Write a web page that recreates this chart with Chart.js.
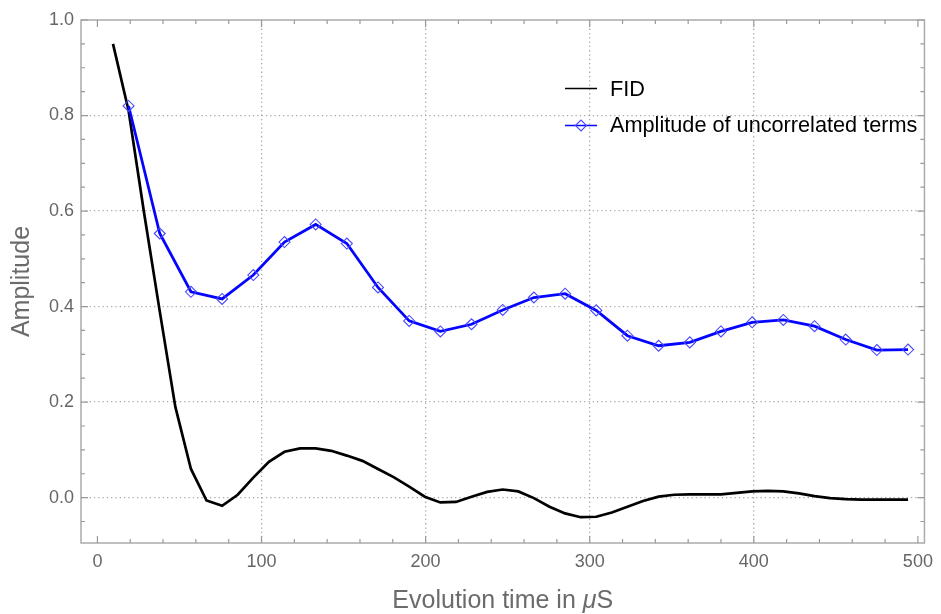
<!DOCTYPE html>
<html lang="en">
<head>
  <meta charset="UTF-8" />
  <title>FID and amplitude of uncorrelated terms</title>
  <script src="https://cdn.jsdelivr.net/npm/chart.js@4"></script>
  <style>
    * {
      box-sizing: border-box;
      margin: 0;
      padding: 0;
    }

    body {
      background: #fff;
      width: 941px;
      height: 614px;
      overflow: hidden;
    }

    .chart-box {
      position: relative;
      width: 941px;
      height: 614px;
    }
  </style>
</head>
<body>

<div class="chart-box">
  <canvas id="decayChart"></canvas>
</div>

<script>
  // FID, sampled every 9.5 us
  const fidTimes = [9.5, 19, 28.5, 38, 47.5, 57, 66.5, 76, 85.5, 95, 104.5, 114, 123.5, 133, 142.5, 152,
    161.5, 171, 180.5, 190, 199.5, 209, 218.5, 228, 237.5, 247, 256.5, 266, 275.5, 285, 294.5, 304,
    313.5, 323, 332.5, 342, 351.5, 361, 370.5, 380, 389.5, 399, 408.5, 418, 427.5, 437, 446.5, 456,
    465.5, 475, 484.5, 494];
  const fidValues = [0.95, 0.81, 0.595, 0.39, 0.19, 0.06, -0.006, -0.017, 0.006, 0.042, 0.075, 0.096,
    0.103, 0.103, 0.098, 0.088, 0.077, 0.060, 0.043, 0.023, 0.002, -0.010, -0.009, 0.002, 0.012, 0.017,
    0.013, -0.001, -0.019, -0.033, -0.041, -0.040, -0.031, -0.019, -0.007, 0.002, 0.006, 0.007, 0.007,
    0.007, 0.010, 0.013, 0.014, 0.013, 0.009, 0.003, -0.001, -0.003, -0.004, -0.004, -0.004, -0.004];

  // amplitude of uncorrelated terms, every 19 us
  const ampTimes = [19, 38, 57, 76, 95, 114, 133, 152, 171, 190, 209, 228, 247, 266, 285, 304, 323,
    342, 361, 380, 399, 418, 437, 456, 475, 494];
  const ampValues = [0.82, 0.553, 0.431, 0.416, 0.466, 0.535, 0.572, 0.532, 0.44, 0.37, 0.348, 0.363,
    0.393, 0.419, 0.427, 0.392, 0.339, 0.318, 0.325, 0.348, 0.367, 0.372, 0.359, 0.331, 0.309, 0.310];

  const seriesNames = ['FID', 'Amplitude of uncorrelated terms'];
  const xTitleParts = [['Evolution time in ', 'normal'], ['\u03bc', 'italic'], ['S', 'normal']];
  const yTitle = 'Amplitude';

  const FONT = '"Liberation Sans", Arial, sans-serif';
  const BLUE = '#0505ff';
  const DIAMOND = '#4848ff';

  // Mathematica-style frame with inward ticks on all four sides
  const frameTicks = {
    id: 'frameTicks',
    afterDatasetsDraw(chart) {
      const {ctx, chartArea: a, scales: {x, y}} = chart;
      ctx.save();
      ctx.strokeStyle = '#ababab';
      ctx.lineWidth = 1.5;
      ctx.strokeRect(a.left, a.top, a.right - a.left, a.bottom - a.top);

      ctx.strokeStyle = '#9a9a9a';
      ctx.lineWidth = 1.2;
      ctx.beginPath();
      for (let v = 0; v <= 500; v += 20) {
        const px = x.getPixelForValue(v);
        const len = v % 100 === 0 ? 7 : 4;
        ctx.moveTo(px, a.bottom);
        ctx.lineTo(px, a.bottom - len);
        ctx.moveTo(px, a.top);
        ctx.lineTo(px, a.top + len);
      }
      for (let i = -1; i <= 20; i++) {
        const py = y.getPixelForValue(i * 0.05);
        const len = i % 4 === 0 ? 7 : 4;
        ctx.moveTo(a.left, py);
        ctx.lineTo(a.left + len, py);
        ctx.moveTo(a.right, py);
        ctx.lineTo(a.right - len, py);
      }
      ctx.stroke();
      ctx.restore();
    },
    afterDraw(chart) {
      const {ctx, chartArea: a} = chart;
      ctx.save();

      // x title with italic mu
      ctx.fillStyle = '#6b6b6b';
      ctx.textBaseline = 'alphabetic';
      const widths = xTitleParts.map(([t, style]) => {
        ctx.font = style + ' 25px ' + FONT;
        return ctx.measureText(t).width;
      });
      const total = widths.reduce((s, w) => s + w, 0);
      let tx = (a.left + a.right) / 2 - total / 2;
      xTitleParts.forEach(([t, style], i) => {
        ctx.font = style + ' 25px ' + FONT;
        ctx.fillText(t, tx, 608);
        tx += widths[i];
      });

      // legend
      ctx.font = '21.7px ' + FONT;
      ctx.fillStyle = '#000';
      ctx.strokeStyle = '#000';
      ctx.lineWidth = 1.5;
      ctx.beginPath();
      ctx.moveTo(565, 88.5);
      ctx.lineTo(597, 88.5);
      ctx.stroke();
      ctx.fillText(seriesNames[0], 610, 95.5);

      ctx.strokeStyle = BLUE;
      ctx.beginPath();
      ctx.moveTo(565, 125.5);
      ctx.lineTo(597, 125.5);
      ctx.stroke();
      ctx.strokeStyle = DIAMOND;
      ctx.lineWidth = 1.1;
      ctx.beginPath();
      ctx.moveTo(575.5, 125.5);
      ctx.lineTo(581, 120);
      ctx.lineTo(586.5, 125.5);
      ctx.lineTo(581, 131);
      ctx.closePath();
      ctx.stroke();
      ctx.fillText(seriesNames[1], 610, 132);

      ctx.restore();
    }
  };

  const ctx = document.getElementById('decayChart').getContext('2d');

  new Chart(ctx, {
    type: 'line',
    data: {
      datasets: [
        {
          label: seriesNames[0],
          data: fidTimes.map((t, i) => ({x: t, y: fidValues[i]})),
          borderColor: '#000',
          borderWidth: 2.7,
          pointRadius: 0,
          tension: 0,
          order: 1
        },
        {
          label: seriesNames[1],
          data: ampTimes.map((t, i) => ({x: t, y: ampValues[i]})),
          borderColor: BLUE,
          borderWidth: 2.8,
          pointStyle: 'rectRot',
          pointRadius: 5.5,
          pointBorderWidth: 1.1,
          pointBorderColor: DIAMOND,
          pointBackgroundColor: 'rgba(0,0,0,0)',
          tension: 0,
          order: 0
        }
      ]
    },
    options: {
      responsive: true,
      maintainAspectRatio: false,
      animation: false,
      layout: {
        padding: {top: 20, right: 12, left: 0, bottom: 0}
      },
      plugins: {
        legend: {display: false},
        tooltip: {enabled: false}
      },
      scales: {
        x: {
          type: 'linear',
          min: -10,
          max: 504,
          afterFit: (scale) => { scale.height = 71; },
          ticks: {
            stepSize: 100,
            includeBounds: false,
            padding: 8,
            color: '#666',
            font: {family: FONT, size: 18},
            maxRotation: 0
          },
          grid: {
            drawTicks: false,
            lineWidth: 1.3,
            color: (c) => (c.tick && c.tick.value > 0 && c.tick.value < 500) ? '#a8a8a8' : 'rgba(0,0,0,0)'
          },
          border: {display: false, dash: [1.3, 3]}
        },
        y: {
          type: 'linear',
          min: -0.095,
          max: 1.0,
          afterFit: (scale) => { scale.width = 81; },
          ticks: {
            stepSize: 0.2,
            includeBounds: false,
            padding: 7,
            color: '#666',
            font: {family: FONT, size: 18},
            callback: (v) => Number(v).toFixed(1)
          },
          grid: {
            drawTicks: false,
            lineWidth: 1.3,
            color: (c) => (c.tick && c.tick.value < 0.99) ? '#a8a8a8' : 'rgba(0,0,0,0)'
          },
          border: {display: false, dash: [1.3, 3]},
          title: {
            display: true,
            text: yTitle,
            color: '#6b6b6b',
            font: {family: FONT, size: 25},
            padding: {top: 7, bottom: 0}
          }
        }
      }
    },
    plugins: [frameTicks]
  });
</script>

</body>
</html>
